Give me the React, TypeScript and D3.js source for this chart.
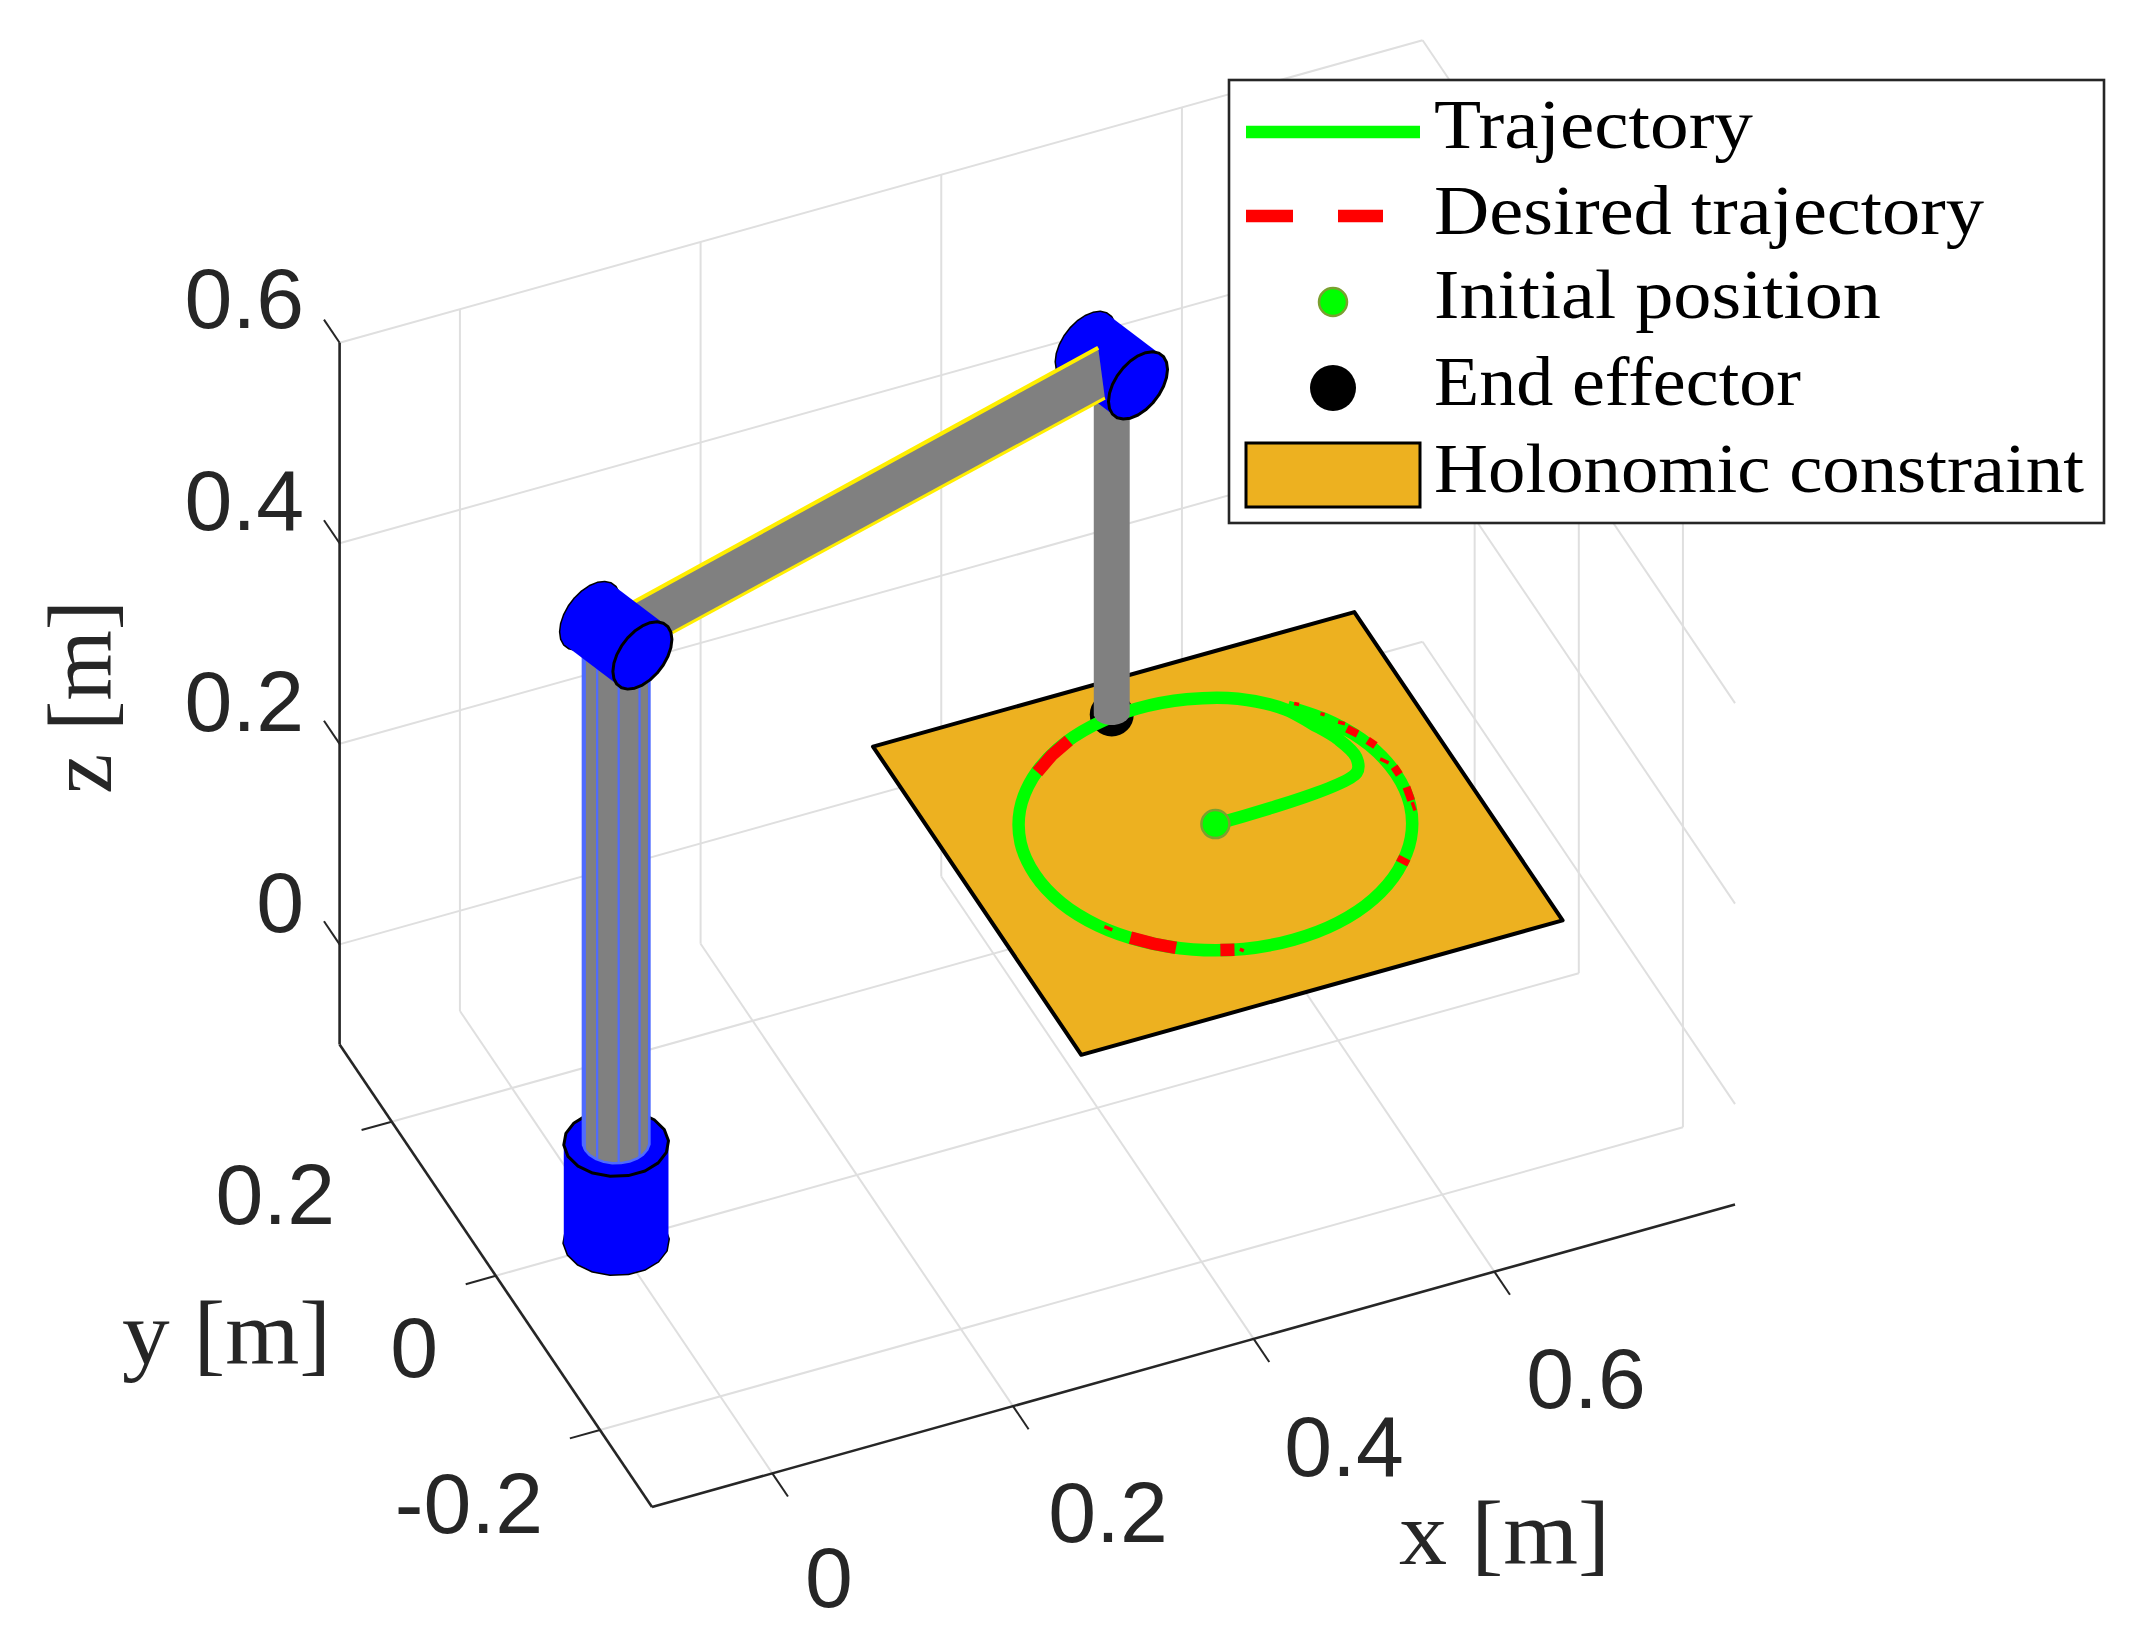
import React, { useRef, useEffect } from 'react';
import * as d3 from 'd3';

type P3 = [number, number, number];

// axis ticks
const xTicks = [0, 0.2, 0.4, 0.6];
const yTicks = [-0.2, 0, 0.2];
const zTicks = [0, 0.2, 0.4, 0.6];

// trajectory on the constraint plane
const trajZ = 0.15;
const trajX = [0.498, 0.621, 0.628, 0.624, 0.613, 0.601, 0.573, 0.537, 0.498, 0.459, 0.423, 0.392, 0.368, 0.353, 0.348, 0.353, 0.368, 0.392, 0.423, 0.459, 0.498, 0.537, 0.573, 0.604, 0.628, 0.643, 0.648, 0.643, 0.628, 0.604];
const trajY = [0, 0.013, 0.03, 0.055, 0.08, 0.104, 0.13, 0.145, 0.15, 0.145, 0.13, 0.106, 0.075, 0.039, 0, -0.039, -0.075, -0.106, -0.13, -0.145, -0.15, -0.145, -0.13, -0.106, -0.075, -0.039, 0, 0.039, 0.075, 0.106];

// parts of the desired trajectory that show through
const desiredBlocks: [number, number][][] = [
  [[0.435, 0.136], [0.416, 0.125], [0.398, 0.111]],
  [[0.385, -0.098], [0.398, -0.1115], [0.412, -0.123]],
  [[0.442, -0.139], [0.452, -0.143]],
  [[0.6095, -0.1], [0.6146, -0.0944]],
];
const desiredEdge: [number, number][][] = [
  [[0.635, 0.064], [0.64, 0.055]],
  [[0.644, 0.045], [0.647, 0.037]],
  [[0.65, 0.008], [0.65, -0.002]],
  [[0.649, -0.018], [0.646, -0.034]],
];
const desiredSpecks: [number, number][][] = [
  [[0.61, 0.1076], [0.613, 0.105]],
  [[0.6236, 0.0885], [0.626, 0.086]],
  [[0.632, 0.074], [0.636, 0.07]],
  [[0.644, 0.021], [0.648, 0.014]],
  [[0.646, -0.036], [0.644, -0.046]],
  [[0.456, -0.144], [0.458, -0.147]],
  [[0.376, -0.084], [0.372, -0.078]],
];

const startPoint: P3 = [0.498, 0, 0.15];
const effector: P3 = [0.474, 0.1436, 0.157];
const shoulder: P3 = [0, 0, 0.505];
const elbow: P3 = [0.474, 0.1436, 0.505];

const plateX = [0.3, 0.7, 0.7, 0.3];
const plateY = [0.2, 0.2, -0.2, -0.2];
const plateZ = 0.14;

const armDir: P3 = [0.957, 0.29, 0];
const jointAxis: P3 = [-0.29, 0.957, 0];
const zDir: P3 = [0, 0, 1];
const yDirX: P3 = [1, 0, 0];
const yDirY: P3 = [0, 1, 0];

// upper arm outline (taken in the y=0 plane of the view)
const linkOutline: P3[] = [[0.0105, 0, 0.5323], [0.4006, 0, 0.6578], [0.4062, 0, 0.6056], [0.0468, 0, 0.4922]];
const columnMesh = [-183, -148, -109, -69, -33];

const legendLabels = ['Trajectory', 'Desired trajectory', 'Initial position', 'End effector', 'Holonomic constraint'];
const legendWidths = [319, 550, 447, 367, 650];
const legendBaselines = [148, 234, 318, 405, 492];

const GREEN = '#00ff00';
const RED = '#ff0000';
const BLUE = '#0000ff';
const GREY = '#808080';
const PLATE = '#edb120';
const INK = '#262626';

const App: React.FC = () => {
  const svgRef = useRef<SVGSVGElement>(null);

  useEffect(() => {
    if (!svgRef.current) return;
    const svg = d3.select(svgRef.current);
    svg.selectAll('*').remove();

    // orthographic view: each world axis has its own screen scales
    const ox = 652, oy = 1507;
    const xPx = d3.scaleLinear().domain([-0.1, 0.8]).range([0, 1083]);
    const xPy = d3.scaleLinear().domain([-0.1, 0.8]).range([0, -302.6]);
    const yPx = d3.scaleLinear().domain([-0.3, 0.3]).range([0, -312.4]);
    const yPy = d3.scaleLinear().domain([-0.3, 0.3]).range([0, -462.4]);
    const zPy = d3.scaleLinear().domain([-0.1, 0.6]).range([0, -701.8]);
    const project = ([x, y, z]: P3): [number, number] => [
      ox + xPx(x) + yPx(y),
      oy + xPy(x) + yPy(y) + zPy(z),
    ];
    const seg = (a: P3, b: P3) => d3.line()([project(a), project(b)]) as string;

    const ring = (c: P3, u: P3, v: P3, r: number, n = 18): [number, number][] =>
      d3.range(n).map(i => {
        const t = (i / n) * 2 * Math.PI;
        const a = r * Math.cos(t), b = r * Math.sin(t);
        return project([c[0] + a * u[0] + b * v[0], c[1] + a * u[1] + b * v[1], c[2] + a * u[2] + b * v[2]]);
      });
    const closed = (pts: [number, number][]) => `M${pts.join('L')}Z`;
    const hull = (...sets: [number, number][][]) => closed(d3.polygonHull(sets.flat()) as [number, number][]);

    // grid
    const grid = svg.append('g').attr('stroke', '#dfdfdf').attr('stroke-width', 2).attr('fill', 'none');
    const gridLines: [P3, P3][] = [];
    xTicks.forEach(x => {
      gridLines.push([[x, -0.3, -0.1], [x, 0.3, -0.1]]);
      gridLines.push([[x, 0.3, -0.1], [x, 0.3, 0.6]]);
    });
    yTicks.forEach(y => {
      gridLines.push([[-0.1, y, -0.1], [0.8, y, -0.1]]);
      gridLines.push([[0.8, y, -0.1], [0.8, y, 0.6]]);
    });
    zTicks.forEach(z => {
      gridLines.push([[-0.1, 0.3, z], [0.8, 0.3, z]]);
      gridLines.push([[0.8, 0.3, z], [0.8, -0.3, z]]);
    });
    grid.selectAll('path').data(gridLines).enter().append('path').attr('d', d => seg(d[0], d[1]));

    // axes and ticks
    const axes = svg.append('g').attr('stroke', INK).attr('fill', 'none');
    const axisLines: [P3, P3][] = [
      [[-0.1, -0.3, -0.1], [0.8, -0.3, -0.1]],
      [[-0.1, -0.3, -0.1], [-0.1, 0.3, -0.1]],
      [[-0.1, 0.3, -0.1], [-0.1, 0.3, 0.6]],
    ];
    axes.selectAll('path.axis').data(axisLines).enter().append('path').attr('class', 'axis')
      .attr('stroke-width', 2.6).attr('d', d => seg(d[0], d[1]));
    const tickLines: [P3, P3][] = [
      ...xTicks.map(x => [[x, -0.3, -0.1], [x, -0.33, -0.1]] as [P3, P3]),
      ...yTicks.map(y => [[-0.1, y, -0.1], [-0.125, y, -0.1]] as [P3, P3]),
      ...zTicks.map(z => [[-0.1, 0.3, z], [-0.1, 0.33, z]] as [P3, P3]),
    ];
    axes.selectAll('path.tick').data(tickLines).enter().append('path').attr('class', 'tick')
      .attr('stroke-width', 2).attr('d', d => seg(d[0], d[1]));

    // tick labels
    const tickText = (t: string, x: number, y: number, anchor: string) =>
      svg.append('text').attr('x', x).attr('y', y).attr('text-anchor', anchor)
        .attr('font-family', '"Liberation Sans", sans-serif').attr('font-size', 86).attr('fill', INK).text(t);
    const fmt = (v: number) => String(v);
    const xLabelPos = [[829, 1607], [1108, 1542], [1344, 1476], [1586, 1408]];
    xTicks.forEach((v, i) => tickText(fmt(v), xLabelPos[i][0], xLabelPos[i][1], 'middle'));
    const yLabelPos = [[543, 1533], [438, 1377], [335, 1224]];
    yTicks.forEach((v, i) => tickText(fmt(v), yLabelPos[i][0], yLabelPos[i][1], 'end'));
    const zLabelY = [932, 731, 530, 328];
    zTicks.forEach((v, i) => tickText(fmt(v), 304, zLabelY[i], 'end'));

    // axis labels
    const axisText = (t: string, len: number) =>
      svg.append('text').attr('font-family', '"Liberation Serif", serif').attr('font-size', 90)
        .attr('fill', INK).attr('textLength', len).attr('lengthAdjust', 'spacingAndGlyphs').text(t);
    axisText('x [m]', 211).attr('x', 1399).attr('y', 1564);
    axisText('y [m]', 209).attr('x', 122).attr('y', 1364);
    axisText('z [m]', 194).attr('transform', 'translate(111,794) rotate(-90)');

    // constraint plate
    svg.append('path')
      .attr('d', closed(plateX.map((x, i) => project([x, plateY[i], plateZ]))))
      .attr('fill', PLATE).attr('stroke', '#000').attr('stroke-width', 4).attr('stroke-linejoin', 'round');

    // end effector marker
    const ee = project(effector);
    svg.append('circle').attr('cx', ee[0]).attr('cy', ee[1]).attr('r', 22).attr('fill', '#000');

    // trajectories
    const pathLine = d3.line<[number, number]>()
      .x(d => project([d[0], d[1], trajZ])[0])
      .y(d => project([d[0], d[1], trajZ])[1]);
    svg.append('path')
      .attr('d', pathLine.curve(d3.curveCatmullRom)(trajX.map((x, i) => [x, trajY[i]] as [number, number])) as string)
      .attr('fill', 'none').attr('stroke', GREEN).attr('stroke-width', 12.5).attr('stroke-linejoin', 'round');
    pathLine.curve(d3.curveLinear);
    const redLines = (data: [number, number][][], width: number) =>
      svg.append('g').selectAll('path').data(data).enter().append('path')
        .attr('d', d => pathLine(d) as string)
        .attr('fill', 'none').attr('stroke', RED).attr('stroke-width', width);
    redLines(desiredBlocks, 12.5);
    redLines(desiredEdge, 8);
    redLines(desiredSpecks, 3.5);

    // initial position marker
    const st = project(startPoint);
    svg.append('circle').attr('cx', st[0]).attr('cy', st[1]).attr('r', 14)
      .attr('fill', GREEN).attr('stroke', '#7aa030').attr('stroke-width', 2.5);

    const solid = (d: string, fill: string, stroke?: string, width?: number) => {
      const p = svg.append('path').attr('d', d).attr('fill', fill).attr('stroke-linejoin', 'round');
      if (stroke) p.attr('stroke', stroke).attr('stroke-width', width ?? 3);
      return p;
    };

    // base cylinder
    const baseBottom = ring([0, 0, -0.099], yDirX, yDirY, 0.04);
    const baseTop = ring([0, 0, -0.001], yDirX, yDirY, 0.04);
    solid(closed(baseBottom), BLUE, '#000', 3);
    solid(hull(baseBottom, baseTop), BLUE);
    solid(closed(baseTop), BLUE, '#000', 3);

    // column with its mesh lines
    const colBottom = ring([0, 0, 0], yDirX, yDirY, 0.0255, 24);
    const colTop = ring([0, 0, 0.5], yDirX, yDirY, 0.0255, 24);
    solid(hull(colBottom, colTop), GREY, '#4f6bff', 2.5);
    columnMesh.forEach(deg => {
      const t = (deg * Math.PI) / 180;
      const x = 0.0255 * Math.cos(t), y = 0.0255 * Math.sin(t);
      svg.append('path').attr('d', seg([x, y, 0], [x, y, 0.5]))
        .attr('stroke', '#4f6bff').attr('stroke-width', 2.2).attr('fill', 'none');
    });

    // forearm
    solid(hull(ring(elbow, yDirX, yDirY, 0.0138, 24), ring([effector[0], effector[1], 0.158], yDirX, yDirY, 0.0138, 24)), GREY);

    const h = 0.031, rJ = 0.0295;
    const face = (c: P3, sign: number) =>
      ring([c[0] + sign * h * jointAxis[0], c[1] + sign * h * jointAxis[1], c[2]], armDir, zDir, rJ, 24);

    // elbow joint, back part
    solid(closed(face(elbow, 1)), BLUE, '#000', 3);
    solid(hull(face(elbow, 1), face(elbow, -1)), BLUE);

    // upper arm
    solid(closed(linkOutline.map(project)), GREY);
    [[0, 1], [3, 2]].forEach(([a, b], i) => {
      svg.append('path').attr('d', seg(linkOutline[a], linkOutline[b]))
        .attr('stroke', '#ffee00').attr('stroke-width', i === 0 ? 4 : 3).attr('fill', 'none');
    });

    // elbow front face, then shoulder joint
    solid(closed(face(elbow, -1)), BLUE, '#000', 3);
    solid(closed(face(shoulder, 1)), BLUE, '#000', 3);
    solid(hull(face(shoulder, 1), face(shoulder, -1)), BLUE);
    solid(closed(face(shoulder, -1)), BLUE, '#000', 3);

    // legend
    const lg = svg.append('g');
    lg.append('rect').attr('x', 1229).attr('y', 80).attr('width', 875).attr('height', 443)
      .attr('fill', '#fff').attr('stroke', INK).attr('stroke-width', 2.6);
    lg.append('line').attr('x1', 1246).attr('x2', 1420).attr('y1', 132).attr('y2', 132)
      .attr('stroke', GREEN).attr('stroke-width', 12.5);
    lg.append('line').attr('x1', 1246).attr('x2', 1383).attr('y1', 216).attr('y2', 216)
      .attr('stroke', RED).attr('stroke-width', 12.5).attr('stroke-dasharray', '47 45');
    lg.append('circle').attr('cx', 1333).attr('cy', 302).attr('r', 14)
      .attr('fill', GREEN).attr('stroke', '#7aa030').attr('stroke-width', 2.5);
    lg.append('circle').attr('cx', 1333).attr('cy', 388).attr('r', 23).attr('fill', '#000');
    lg.append('rect').attr('x', 1246).attr('y', 443).attr('width', 174).attr('height', 64)
      .attr('fill', PLATE).attr('stroke', '#000').attr('stroke-width', 3);
    lg.selectAll('text').data(legendLabels).enter().append('text')
      .attr('x', 1434).attr('y', (_, i) => legendBaselines[i])
      .attr('font-family', '"Liberation Serif", serif').attr('font-size', 70).attr('fill', '#000')
      .attr('textLength', (_, i) => legendWidths[i]).attr('lengthAdjust', 'spacingAndGlyphs')
      .text(d => d);
  }, []);

  return (
    <svg ref={svgRef} width={2139} height={1644} viewBox="0 0 2139 1644"
      style={{ position: 'absolute', left: 0, top: 0, background: '#fff' }} />
  );
};

export default App;
